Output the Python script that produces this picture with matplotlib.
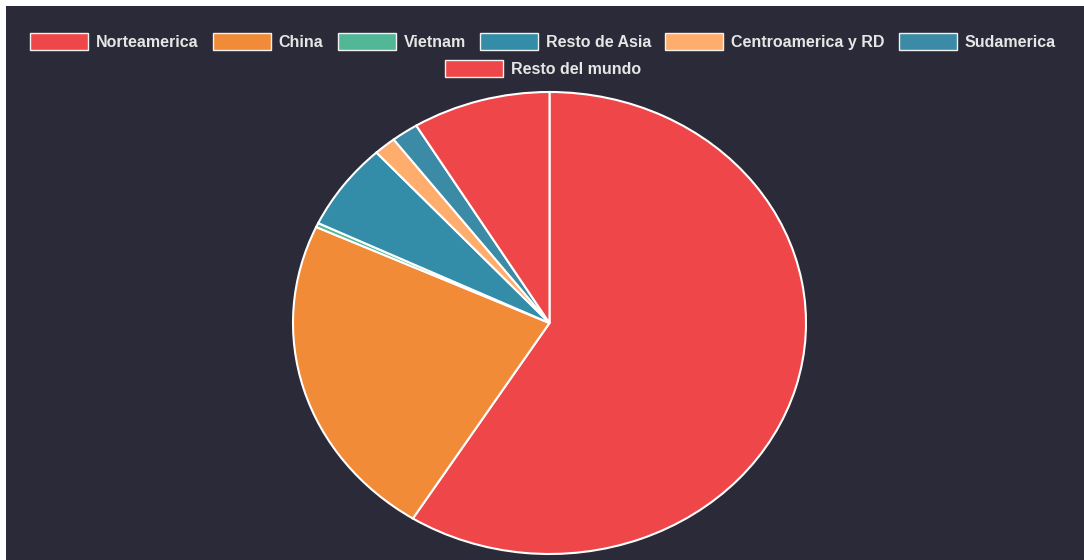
import matplotlib
matplotlib.use("Agg")
import matplotlib.pyplot as plt
from matplotlib.patches import Rectangle

# Export share by destination region (%)
regions = ["Norteamerica", "China", "Vietnam", "Resto de Asia",
           "Centroamerica y RD", "Sudamerica", "Resto del mundo"]
shares = [59.0, 22.9, 0.3, 6.1, 1.4, 1.7, 8.7]
colors = ["#ef4749", "#f28b38", "#52b797", "#338ca8",
          "#ffad6d", "#3b8ba6", "#ef4749"]

BG = "#2b2a38"
TEXT = "#e6e6e6"
W, H = 1084, 560
DPI = 100

fig = plt.figure(figsize=(W / DPI, H / DPI), dpi=DPI, facecolor="white")

# dark canvas with a thin white margin on the left and top
fig.patches.append(Rectangle((6 / W, 0), 1 - 6 / W, 1 - 6 / H,
                             transform=fig.transFigure, facecolor=BG,
                             edgecolor="none", zorder=-5))

# pie area (slightly stretched horizontally)
cx, cy = 549.5, 323.0          # centre in pixels from top-left
rx, ry = 256.5, 231.0          # radii in pixels
pad = 1.03
ax = fig.add_axes([(cx - rx * pad) / W, (H - cy - ry * pad) / H,
                   2 * rx * pad / W, 2 * ry * pad / H])
ax.set_zorder(2)
ax.patch.set_visible(False)
ax.pie(shares, colors=colors, startangle=90, counterclock=False,
       wedgeprops=dict(edgecolor="white", linewidth=1.5, antialiased=True))
ax.set_aspect("auto")
ax.set_xlim(-pad, pad)
ax.set_ylim(-pad, pad)
ax.axis("off")

# legend drawn in pixel units, wrapped into centred rows
font = dict(family="Liberation Sans", weight="bold", size=11.5)
box_w, box_h = 58, 17
box_gap, item_gap = 8, 14
row_y = [41, 68.5]
max_row = W - 40
centre_x = 543

renderer = fig.canvas.get_renderer()
widths = []
for name in regions:
    t = fig.text(0, 0, name, **font)
    bb = t.get_window_extent(renderer=renderer)
    widths.append(bb.width)
    t.remove()

rows, cur, cur_w = [], [], 0
for i, w in enumerate(widths):
    iw = box_w + box_gap + w
    add = iw if not cur else iw + item_gap
    if cur and cur_w + add > max_row:
        rows.append((cur, cur_w))
        cur, cur_w = [i], iw
    else:
        cur.append(i)
        cur_w += add
rows.append((cur, cur_w))

for r, (items, total) in enumerate(rows):
    x = centre_x - total / 2
    y = row_y[min(r, len(row_y) - 1)]
    for i in items:
        fig.patches.append(Rectangle((x / W, (H - y - box_h / 2) / H),
                                     box_w / W, box_h / H,
                                     transform=fig.transFigure,
                                     facecolor=colors[i], edgecolor="#f2f2f2",
                                     linewidth=1.0, zorder=2))
        fig.text((x + box_w + box_gap) / W, (H - y) / H, regions[i],
                 color=TEXT, va="center_baseline", ha="left", **font)
        x += box_w + box_gap + widths[i] + item_gap

fig.savefig("out.png", dpi=DPI, facecolor=fig.get_facecolor())
